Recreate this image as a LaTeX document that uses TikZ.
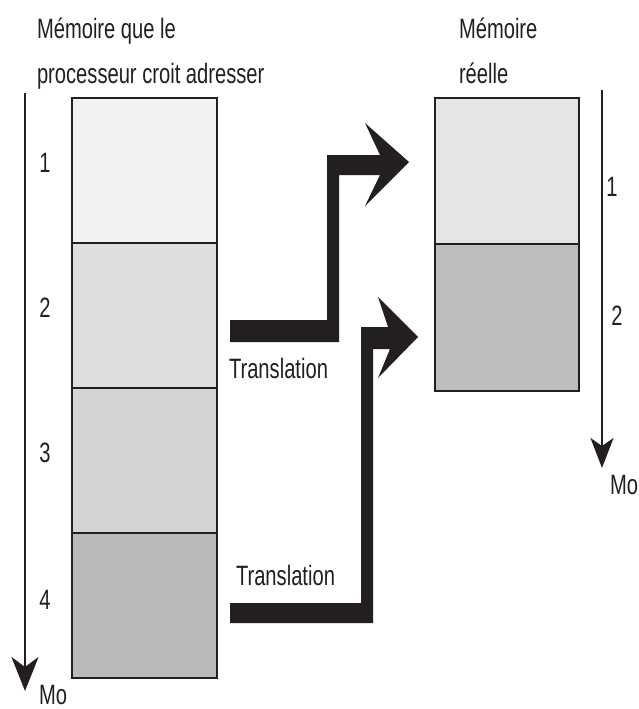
\documentclass[tikz,border=0pt]{standalone}
\usepackage{fontspec}
\setmainfont{Liberation Sans}[FakeStretch=0.72]
\usetikzlibrary{arrows.meta}
\definecolor{gA}{gray}{0.95}
\definecolor{gB}{gray}{0.87}
\definecolor{gC}{gray}{0.83}
\definecolor{gD}{gray}{0.73}
\definecolor{gE}{gray}{0.90}
\definecolor{gF}{gray}{0.74}
\definecolor{ink}{HTML}{231F20}
\begin{document}
\begin{tikzpicture}[x=1pt,y=-1pt,
  memblock/.style={draw=ink,line width=1.6pt,rectangle,anchor=north west,inner sep=0pt,outer sep=0pt,minimum width=145pt},
  lbl/.style={inner sep=0pt,outer sep=0pt,font=\fontsize{28}{32}\selectfont,text=ink},
  axis/.style={draw=ink,line width=1.8pt,-{Stealth[length=34pt,width=27pt,inset=10pt]}},
  bigarrow/.style={fill=ink,draw=none}]
\useasboundingbox (0,0) rectangle (638,709);
\fill[white] (0,0) rectangle (638,709);
% titles
\node[lbl,anchor=base west] (t1) at (37,39) {Mémoire que le};
\node[lbl,anchor=base west] (t2) at (37,83) {processeur croit adresser};
\node[lbl,anchor=base west] (t3) at (459,39) {Mémoire};
\node[lbl,anchor=base west] (t4) at (459,83) {réelle};
% left memory
\node[memblock,fill=gA,minimum height=145pt] (l1) at (72,98) {};
\node[memblock,fill=gB,minimum height=145pt] (l2) at (72,243) {};
\node[memblock,fill=gC,minimum height=145pt] (l3) at (72,388) {};
\node[memblock,fill=gD,minimum height=145pt] (l4) at (72,533) {};
% right memory
\node[memblock,fill=gE,minimum height=146pt,minimum width=144pt] (r1) at (435,98) {};
\node[memblock,fill=gF,minimum height=147pt,minimum width=144pt] (r2) at (435,244) {};
% axes
\coordinate (la0) at (25,93);
\coordinate (la1) at (25,691);
\draw[axis] (la0) -- (la1);
\coordinate (ra0) at (602,90);
\coordinate (ra1) at (602,468);
\draw[axis,-{Stealth[length=30pt,width=23pt,inset=8pt]}] (ra0) -- (ra1);
% numbers
\node[lbl,anchor=base] (n1) at (45,172) {1};
\node[lbl,anchor=base] (n2) at (45,317) {2};
\node[lbl,anchor=base] (n3) at (45,462) {3};
\node[lbl,anchor=base] (n4) at (45,609) {4};
\node[lbl,anchor=base] (m1) at (612,196) {1};
\node[lbl,anchor=base] (m2) at (617,325) {2};
\node[lbl,anchor=base west] (mo1) at (39,704) {Mo};
\node[lbl,anchor=base west] (mo2) at (610,494) {Mo};
% translation arrows
\fill[bigarrow] (230,320) -- (327,320) -- (327,155) -- (380,155) -- (365,123) -- (409,162)
  -- (365,206) -- (380,175) -- (339,175) -- (339,342) -- (230,342) -- cycle;
\fill[bigarrow] (230,603) -- (361,603) -- (361,327) -- (388,327) -- (378,297) -- (418,337)
  -- (378,378) -- (390,349) -- (373,349) -- (373,623) -- (230,623) -- cycle;
\node[lbl,anchor=base west] (tr1) at (229,378) {Translation};
\node[lbl,anchor=base west] (tr2) at (236,585) {Translation};
\end{tikzpicture}
\end{document}
